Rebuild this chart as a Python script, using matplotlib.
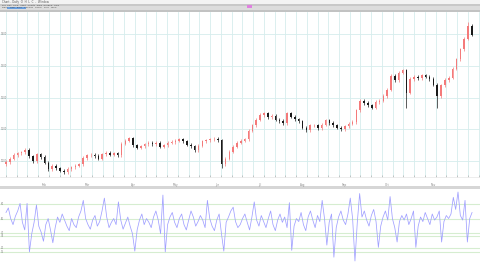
import matplotlib
matplotlib.use('Agg')
import matplotlib.pyplot as plt
import numpy as np
from matplotlib.patches import Rectangle
from matplotlib.ticker import MultipleLocator

# ---------------- data ----------------
closes = [997,1008,1019,1024,1028,1035,1015,1000,1022,1013,
          995,975,985,978,970,966,975,980,986,990,
          1010,1018,1020,1016,1008,1022,1026,1020,1025,1018,
          1055,1064,1072,1050,1042,1046,1053,1058,1054,1057,
          1045,1050,1058,1060,1064,1068,1062,1052,1047,1035,
          1048,1062,1066,1068,1070,1066,990,1008,1030,1045,
          1058,1064,1068,1095,1113,1130,1145,1150,1138,1142,
          1130,1126,1120,1150,1140,1132,1125,1105,1098,1112,
          1113,1104,1115,1128,1120,1112,1105,1100,1110,1118,
          1123,1160,1190,1183,1175,1168,1186,1190,1205,1225,
          1268,1255,1278,1285,1215,1258,1266,1260,1270,1265,
          1258,1240,1205,1238,1255,1262,1290,1320,1352,1385,
          1425,1398]
opens = [990,997,1008,1019,1024,1028,1035,1015,1000,1022,
         1013,995,975,985,978,970,966,975,980,986,
         990,1010,1018,1020,1016,1008,1022,1026,1020,1025,
         1018,1055,1064,1072,1050,1042,1046,1053,1058,1054,
         1057,1045,1050,1058,1060,1064,1068,1062,1052,1047,
         1035,1048,1062,1066,1068,1070,1066,990,1008,1030,
         1045,1058,1064,1068,1095,1113,1130,1145,1150,1138,
         1142,1130,1126,1120,1150,1140,1132,1125,1105,1098,
         1112,1113,1104,1115,1128,1120,1112,1105,1100,1110,
         1118,1123,1160,1190,1183,1175,1168,1186,1190,1205,
         1225,1268,1255,1278,1285,1215,1258,1266,1260,1270,
         1265,1258,1240,1205,1238,1255,1262,1290,1320,1352,
         1385,1425]
highs = [1002,1013,1024,1029,1033,1040,1040,1020,1027,1027,
         1018,1000,990,990,983,975,980,985,991,995,
         1015,1023,1025,1025,1021,1027,1031,1031,1030,1030,
         1060,1069,1077,1077,1055,1051,1058,1063,1063,1062,
         1062,1055,1063,1065,1069,1073,1073,1067,1057,1052,
         1053,1067,1071,1073,1075,1075,1071,1013,1035,1050,
         1063,1069,1073,1100,1118,1135,1150,1155,1155,1147,
         1147,1135,1131,1155,1155,1145,1137,1130,1110,1117,
         1118,1118,1120,1133,1133,1125,1117,1110,1115,1123,
         1128,1165,1195,1195,1188,1180,1191,1195,1210,1230,
         1273,1273,1283,1290,1290,1263,1271,1271,1275,1275,
         1270,1263,1245,1243,1260,1267,1295,1325,1357,1390,
         1438,1430]
lows = [985,992,1003,1014,1019,1023,1010,995,995,1008,
        990,970,970,973,965,961,961,970,975,981,
        985,1005,1013,1011,1003,1003,1017,1015,1015,1013,
        1013,1050,1059,1045,1037,1037,1041,1048,1049,1049,
        1040,1040,1045,1053,1055,1059,1057,1047,1042,1030,
        1030,1043,1057,1061,1063,1061,978,985,1003,1025,
        1040,1053,1059,1063,1090,1108,1125,1140,1133,1133,
        1125,1121,1115,1115,1135,1127,1120,1100,1093,1093,
        1107,1099,1099,1110,1115,1107,1100,1095,1095,1105,
        1113,1118,1155,1178,1170,1163,1163,1181,1185,1200,
        1220,1250,1250,1273,1167,1210,1253,1255,1255,1260,
        1253,1235,1167,1200,1233,1250,1257,1285,1315,1347,
        1380,1393]

price_ticks = [1000, 1100, 1200, 1300, 1400]
price_labels = ['1000', '1100', '1200', '1300', '1400']
date_pos = [10, 21, 33, 44, 55, 66, 77, 88, 99, 111]
date_labels = ['Feb', 'Mar', 'Apr', 'May', 'Jun', 'Jul', 'Aug', 'Sep', 'Oct', 'Nov']

osc = [68,74,60,52,63,70,80,55,45,80,
       16,40,55,78,50,42,30,52,60,45,
       28,48,62,55,66,58,50,44,60,52,
       48,62,70,84,60,52,46,58,64,50,
       56,70,87,62,48,55,60,52,82,58,
       46,54,62,50,40,17,45,58,66,52,
       60,55,48,62,70,58,40,91,16,52,
       62,68,55,48,60,66,52,45,58,70,
       62,50,56,64,58,48,84,60,50,44,
       58,66,40,17,55,62,70,75,56,48,
       52,60,66,55,45,62,82,58,50,64,
       56,48,60,70,52,44,58,66,55,62,
       48,81,18,50,60,56,68,52,44,62,
       70,58,48,64,56,84,60,25,55,66,
       9,48,62,70,58,52,66,87,60,4,
       55,93,62,70,58,50,64,72,56,22,
       50,62,70,58,89,60,48,29,56,64,
       58,66,52,60,70,22,50,62,56,68,
       60,52,66,58,62,70,29,56,64,60,
       66,88,72,95,64,58,84,29,60,68]
osc_levels = [79, 59, 41, 37, 21, 16]
osc_labels = ['80', '60', '40', '35', '20', '15']

# ---------------- figure ----------------
W, H = 480, 264
fig = plt.figure(figsize=(W / 100, H / 100), dpi=100)
fig.patch.set_facecolor('white')

def fy(px):
    return 1 - px / H

# window header bands
for y0, y1, col in [(0, 4, '#f3f3f3'), (4, 5.7, '#c8c8c8'),
                    (5.7, 10, '#dcdcdc'), (10, 11.7, '#c2c2c2'),
                    (186, 188.5, '#d6d6d6')]:
    fig.add_artist(Rectangle((0, fy(y1)), 1, (y1 - y0) / H,
                             transform=fig.transFigure, color=col, lw=0, zorder=0))
fig.text(0.004, fy(2), 'Chart - Daily  O  H  L  C  -  Window', fontsize=2, color='#555555', va='center')
fig.text(0.004, fy(4.9), 'File  Edit  View  Insert  Charts  Tools  Window  Help', fontsize=1.6, color='#444444', va='center')
fig.text(0.004, fy(7.8), 'Daily   Line   Bars   Candles   Zoom   Grid   Tools', fontsize=1.6, color='#444444', va='center')
fig.add_artist(Rectangle((0.015, fy(9.3)), 0.04, 2.6 / H, transform=fig.transFigure,
                         color='#6aa0e0', lw=0, zorder=1))
fig.add_artist(Rectangle((0.515, fy(7.5)), 0.01, 2.5 / H, transform=fig.transFigure,
                         color='#e080e0', lw=0, zorder=1))

# ---------------- main price panel ----------------
ax = fig.add_axes([0, fy(177), 1, 165 / H])
n = len(closes)
x = np.arange(n)
o = np.array(opens); c = np.array(closes)
hi = np.array(highs); lo = np.array(lows)
up = c >= o
cols = np.where(up, '#f47a7a', '#1a1a1a')
ax.vlines(x, lo, hi, colors=cols, lw=0.5, zorder=3)
body_h = np.maximum(np.abs(c - o), 1.5)
ax.bar(x, body_h, bottom=np.minimum(o, c), width=0.4, color=cols, lw=0, zorder=4)

ax.set_xlim(-6 / 3.85, (W - 6) / 3.85)
ax.set_ylim(950, 1469)
ax.set_yticks(price_ticks)
ax.set_yticklabels([])
ax.tick_params(axis='y', length=0)
ax.yaxis.grid(True, color='#d6eded', lw=0.6)
ax.xaxis.set_minor_locator(MultipleLocator(2.79))
ax.xaxis.grid(True, which='minor', color='#d6eded', lw=0.6)
ax.set_xticks(date_pos)
ax.set_xticklabels(date_labels, fontsize=2.0, color='#888888')
ax.tick_params(axis='x', which='major', length=0, pad=4.5)
ax.tick_params(axis='x', which='minor', direction='in', length=1.5, color='#b0b0b0', width=0.5)
ax.set_axisbelow(True)
for s in ['top', 'left', 'right']:
    ax.spines[s].set_visible(False)
ax.spines['bottom'].set_color('#e6e6e6')
ax.spines['bottom'].set_linewidth(0.5)
for v, lab in zip(price_ticks, price_labels):
    ax.text(0.002, v, lab, transform=ax.get_yaxis_transform(), fontsize=1.8,
            color='#888888', va='center', ha='left')

# ---------------- oscillator panel ----------------
ax2 = fig.add_axes([0, 0, 1, 75 / H])
xo = np.arange(len(osc))
ax2.set_xlim(-6 / 2.342, (W - 6) / 2.342)
ax2.set_ylim(0, 99)
for lv, lab in zip(osc_levels, osc_labels):
    ax2.axhline(lv, color='#d6edd0', lw=0.8, zorder=1)
    ax2.text(0.002, lv, lab, transform=ax2.get_yaxis_transform(), fontsize=1.8,
             color='#888888', va='center', ha='left')
ax2.plot(xo, osc, color='#a0a0ff', lw=0.55, zorder=3)
ax2.set_xticks([]); ax2.set_yticks([])
for s in ax2.spines.values():
    s.set_visible(False)

fig.savefig('out.png', dpi=100, facecolor='white')
